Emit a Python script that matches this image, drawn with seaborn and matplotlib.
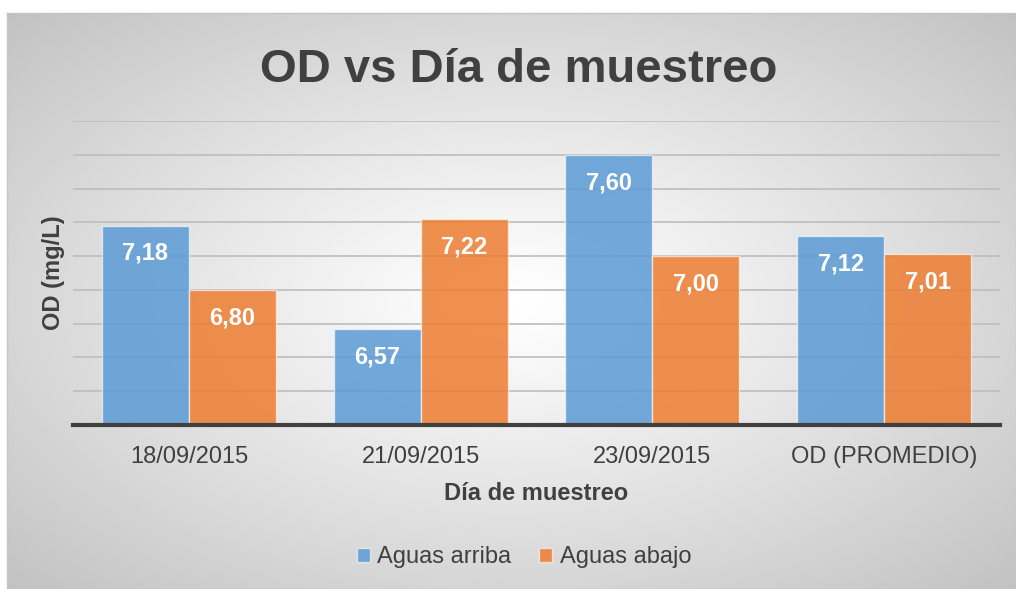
import numpy as np
import pandas as pd
import matplotlib
matplotlib.use("Agg")
import matplotlib.pyplot as plt
import seaborn as sns

# chart data
dias = ["18/09/2015", "21/09/2015", "23/09/2015", "OD (PROMEDIO)"]
aguas_arriba = [7.18, 6.57, 7.60, 7.12]
aguas_abajo = [6.80, 7.22, 7.00, 7.01]
series = ["Aguas arriba", "Aguas abajo"]

data = pd.DataFrame({
    "Día": dias * 2,
    "OD": aguas_arriba + aguas_abajo,
    "Serie": [series[0]] * len(dias) + [series[1]] * len(dias),
})

sns.set_style("white")
plt.rcParams["font.family"] = ["Liberation Sans", "DejaVu Sans"]

W, H = 1016, 589
fig = plt.figure(figsize=(W / 100, H / 100), dpi=100)

# radial gradient background of the chart area
bg = fig.add_axes([7 / W, 0, 1 - 7 / W, 1 - 13 / H], zorder=-10)
gx, gy = np.meshgrid(np.linspace(-1, 1, 400), np.linspace(-1, 1, 240))
r = np.sqrt(gx ** 2 + gy ** 2) / np.sqrt(2)
shade = 1 - 0.24 * r ** 1.1
bg.imshow(shade, cmap="gray", vmin=0, vmax=1, aspect="auto", extent=[0, 1, 0, 1])
bg.set_xticks([])
bg.set_yticks([])
for s in bg.spines.values():
    s.set_color("#c4c4c4")
    s.set_linewidth(1)

ax = fig.add_axes([73 / W, (H - 425) / H, 927 / W, 304 / H])
ax.patch.set_alpha(0)

blue = "#5B9BD5"
orange = "#ED7D31"
sns.barplot(data=data, x="Día", y="OD", hue="Serie", palette=[blue, orange],
            saturation=1, width=0.75, ax=ax, zorder=3, legend=True)

for p in ax.patches:
    fc = p.get_facecolor()
    p.set_facecolor((fc[0], fc[1], fc[2], 0.85))
    p.set_edgecolor((1, 1, 1, 0.6))
    p.set_linewidth(1)

ax.set_ylim(6.0, 7.8)
ax.set_xlim(-0.5, 3.5)
ax.set_yticks(np.arange(6.2, 7.81, 0.2))
ax.yaxis.grid(True, color="#bdbdbd", linewidth=1.2, zorder=0)
ax.set_axisbelow(True)
ax.tick_params(axis="y", length=0, labelleft=False)
ax.tick_params(axis="x", length=0, pad=15, labelsize=17, labelcolor="#404040")
for side in ["top", "right", "left"]:
    ax.spines[side].set_visible(False)
ax.spines["bottom"].set_color("#404040")
ax.spines["bottom"].set_linewidth(3)
ax.spines["bottom"].set_zorder(5)

ax.set_xlabel("Día de muestreo", fontsize=17, fontweight="bold", color="#404040", labelpad=10)
ax.set_ylabel("OD (mg/L)", fontsize=17, fontweight="bold", color="#404040", labelpad=6)

# value labels inside bars
for p in ax.patches:
    h = p.get_height()
    if p.get_width() == 0 or np.isnan(h):
        continue
    ax.annotate(f"{h:.2f}".replace(".", ","),
                (p.get_x() + p.get_width() / 2, p.get_y() + h),
                xytext=(0, -20), textcoords="offset points",
                ha="center", va="center", fontsize=17, fontweight="bold",
                color="white", zorder=6)

fig.text(519 / W, (H - 82) / H, "OD vs Día de muestreo", ha="center", va="baseline",
         fontsize=34, fontweight="bold", color="#404040")

handles, labels = ax.get_legend_handles_labels()
ax.get_legend().remove()
leg = fig.legend(handles, labels, loc="center", bbox_to_anchor=(524 / W, (H - 557) / H),
                 ncol=2, frameon=False, fontsize=17, handlelength=0.55, handleheight=0.55,
                 handletextpad=0.3, columnspacing=1.2, labelcolor="#404040")

fig.savefig("out.png", dpi=100)
